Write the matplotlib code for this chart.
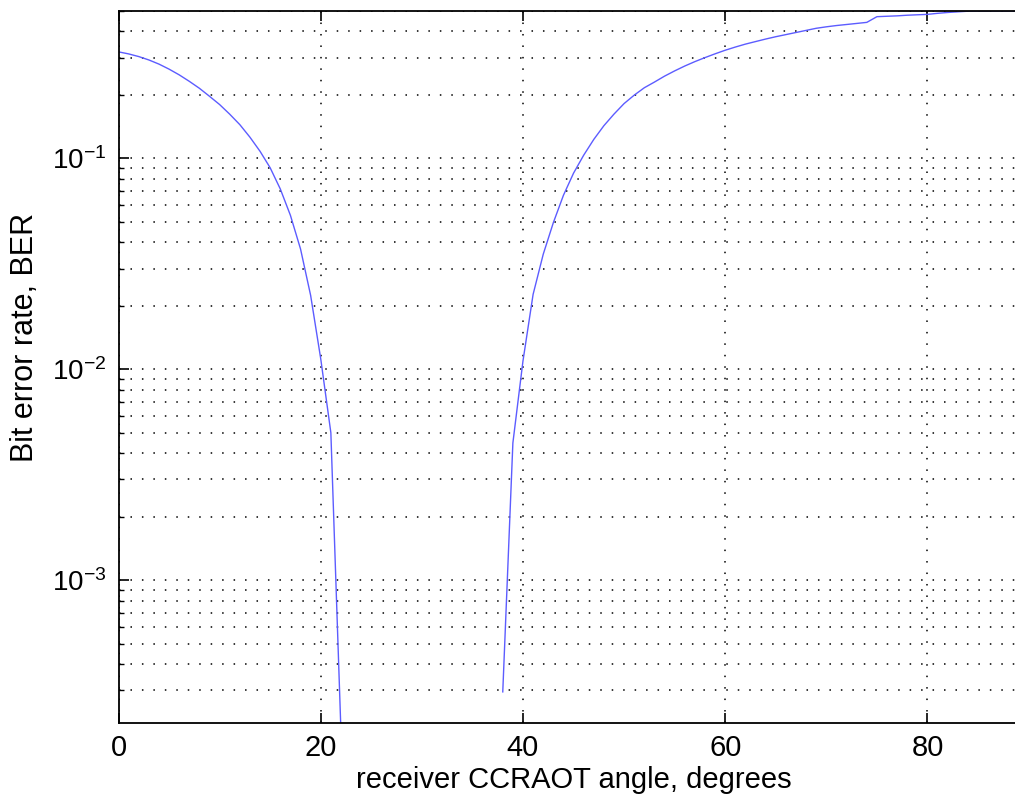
import numpy as np
import matplotlib
matplotlib.use("Agg")
import matplotlib.pyplot as plt
from matplotlib.ticker import LogLocator, NullFormatter

# ---- data ----
angle_left = [0, 1, 2, 3, 4, 5, 6, 7, 8, 9, 10, 11, 12, 13, 14, 15, 16, 17, 18, 19, 20, 21, 22]
ber_left = [0.320, 0.313, 0.304, 0.293, 0.280, 0.265, 0.249, 0.232, 0.215, 0.197, 0.180,
            0.162, 0.1445, 0.126, 0.108, 0.0902, 0.0716, 0.0537, 0.0372, 0.0224, 0.0112,
            0.0050, 0.00019]

angle_right = list(range(38, 91))
ber_right = [0.000295, 0.00447, 0.01096, 0.02265, 0.03508, 0.04955, 0.06683, 0.08511,
             0.1035, 0.1230, 0.1429, 0.1622, 0.1820, 0.1995, 0.2163, 0.2301, 0.2455,
             0.2600, 0.2742, 0.2877, 0.3006, 0.3133, 0.3258, 0.3373, 0.3483, 0.3581,
             0.3681, 0.3776, 0.3864, 0.3954, 0.4046, 0.4140, 0.4207, 0.4266, 0.4315,
             0.4365, 0.4416, 0.4699, 0.4721, 0.4742, 0.4775, 0.4797, 0.4819, 0.4875,
             0.4920, 0.4955, 0.4989, 0.5, 0.5, 0.5, 0.5, 0.5, 0.5]

xticks = [0, 20, 40, 60, 80]
xticklabels = ["0", "20", "40", "60", "80"]
yticks = [1e-3, 1e-2, 1e-1]
yticklabels = [r"$10^{-3}$", r"$10^{-2}$", r"$10^{-1}$"]
xlabel = "receiver CCRAOT angle, degrees"
ylabel = "Bit error rate, BER"

plt.rcParams["font.family"] = ["Liberation Sans", "DejaVu Sans"]
plt.rcParams["mathtext.fontset"] = "custom"
plt.rcParams["mathtext.rm"] = "Liberation Sans"
plt.rcParams["mathtext.it"] = "Liberation Sans:italic"
plt.rcParams["mathtext.bf"] = "Liberation Sans:bold"

fig = plt.figure(figsize=(10.15, 7.99), dpi=100)
ax = fig.add_axes([118.5 / 1015, 76 / 799, 910.1 / 1015, 712 / 799])

line_color = "#5c5cff"
ax.plot(angle_left, ber_left, color=line_color, lw=1.0)
ax.plot(angle_right, ber_right, color=line_color, lw=1.0)

ax.set_yscale("log")
ax.set_xlim(0, 90)
ax.set_ylim(2.1e-4, 0.5)

ax.set_xticks(xticks)
ax.set_xticklabels(xticklabels)
ax.set_yticks(yticks)
ax.set_yticklabels(yticklabels)
ax.yaxis.set_minor_locator(LogLocator(base=10, subs=np.arange(2, 10), numticks=20))
ax.yaxis.set_minor_formatter(NullFormatter())

grid_style = dict(color="black", linewidth=1.1, linestyle=(0, (1, 6.5)))
ax.grid(True, which="major", axis="both", **grid_style)
ax.grid(True, which="minor", axis="y", **grid_style)
ax.set_axisbelow(True)

ax.tick_params(which="major", direction="in", length=7, width=1.2,
               top=True, right=True, pad=9)
ax.tick_params(axis="x", which="major", labelsize=21, pad=8)
ax.tick_params(axis="y", which="major", labelsize=20, pad=9)
ax.tick_params(which="minor", direction="in", length=3.5, width=1.0,
               left=True, right=True)
for s in ax.spines.values():
    s.set_linewidth(1.3)

ax.set_xlabel(xlabel, fontsize=21, labelpad=3)
ax.set_ylabel(ylabel, fontsize=22)
ax.yaxis.set_label_coords(-0.086, 0.542)

fig.savefig("out.png", dpi=100)
